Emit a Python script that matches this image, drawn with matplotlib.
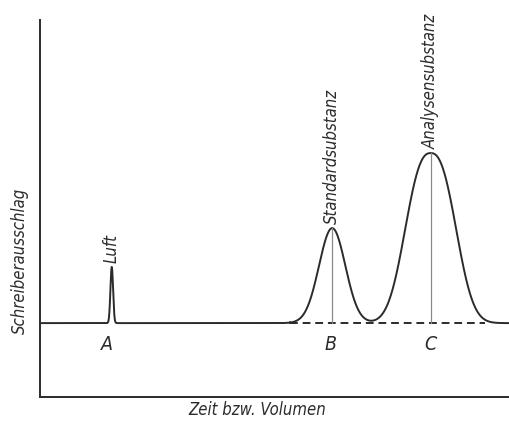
import numpy as np
import matplotlib
matplotlib.use("Agg")
import matplotlib.pyplot as plt
from matplotlib import font_manager

# Peak data (arbitrary units, axes 0..100)
baseline = 19.6
peak_letters = ["A", "B", "C"]
peak_labels = ["Luft", "Standardsubstanz", "Analysensubstanz"]
peak_pos = [15.3, 62.3, 83.3]
peak_height = [14.9, 25.2, 45.1]
peak_width = [0.28, 2.8, 6.7]
peak_shape = [2.0, 2.0, 2.5]
dashed_span = [53.3, 94.9]

ink = "#2b2b2b"

available = {f.name for f in font_manager.fontManager.ttflist}
if "Liberation Sans Narrow" in available:
    family, stretch = "Liberation Sans Narrow", "normal"
else:
    family, stretch = "DejaVu Sans", "condensed"
font = dict(family=family, style="italic", stretch=stretch, color=ink)


def peak(x, pos, h, w, p):
    if p == 2:
        return h * np.exp(-0.5 * ((x - pos) / w) ** 2)
    return h * np.exp(-np.abs((x - pos) / w) ** p)


fig = plt.figure(figsize=(5.09, 4.21), dpi=100)
ax = fig.add_axes([40 / 509, 24 / 421, 469 / 509, 377 / 421])
ax.set_xlim(0, 100)
ax.set_ylim(0, 100)

x = np.linspace(0, 100, 6001)
y = np.full_like(x, baseline)
for pos, h, w, p in zip(peak_pos, peak_height, peak_width, peak_shape):
    y += peak(x, pos, h, w, p)

# solid trace, except the baseline under the peaks which is shown dashed
on_base = (x > dashed_span[0]) & (x < dashed_span[1]) & (y - baseline < 0.15)
ax.plot(x, np.where(on_base, np.nan, y), color=ink, lw=1.4)
ax.plot(dashed_span, [baseline, baseline], color=ink, lw=1.4, ls=(0, (4, 2.5)))

letter_dx = [-3.7, -1.5, 0]
for i, (pos, h) in enumerate(zip(peak_pos, peak_height)):
    if i > 0:
        ax.plot([pos, pos], [baseline, baseline + h], color="#8a8a8a", lw=0.9)
    ax.annotate(peak_labels[i], (pos, baseline + h), xytext=(0, 3),
                textcoords="offset points", rotation=90, ha="center", va="bottom",
                fontsize=12, **font)
    ax.annotate(peak_letters[i], (pos, baseline), xytext=(letter_dx[i], -8.5),
                textcoords="offset points", ha="center", va="top",
                fontsize=14, **font)

for side in ["top", "right"]:
    ax.spines[side].set_visible(False)
for side in ["left", "bottom"]:
    ax.spines[side].set_color(ink)
    ax.spines[side].set_linewidth(1.4)
ax.set_xticks([])
ax.set_yticks([])

fig.text(19.5 / 509, 1 - 261 / 421, "Schreiberausschlag", rotation=90,
         ha="center", va="center", fontsize=12, **font)
fig.text(257.5 / 509, 1 - 410 / 421, "Zeit bzw. Volumen",
         ha="center", va="center", fontsize=12, **font)

fig.savefig("out.png", dpi=100)
